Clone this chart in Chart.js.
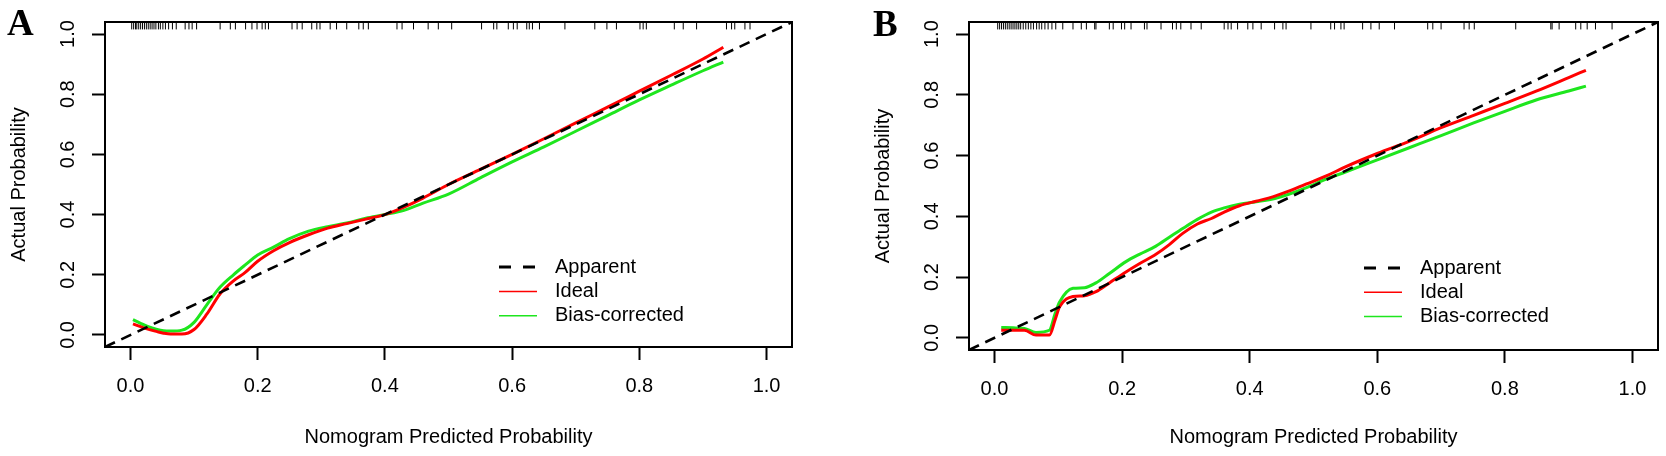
<!DOCTYPE html>
<html>
<head>
<meta charset="utf-8">
<script src="https://cdn.jsdelivr.net/npm/chart.js@4.4.1/dist/chart.umd.min.js"></script>
<style>
  html, body { margin: 0; padding: 0; background: #fff; }
  #wrap { position: relative; width: 1666px; height: 456px; }
  .panel { position: absolute; top: 0; width: 833px; height: 456px; }
</style>
</head>
<body>
<div id="wrap">
  <div class="panel" style="left:0"><canvas id="chartA"></canvas></div>
  <div class="panel" style="left:833px"><canvas id="chartB"></canvas></div>
</div>
<script>
// axis range and ticks (R style, 4% extension)
const AX_RANGE = [-0.04, 1.04];
const X_TICKS = [0, 0.2, 0.4, 0.6, 0.8, 1.0];
const X_TICK_LABELS = ['0.0', '0.2', '0.4', '0.6', '0.8', '1.0'];
const Y_TICKS = [0, 0.2, 0.4, 0.6, 0.8, 1.0];
const Y_TICK_LABELS = ['0.0', '0.2', '0.4', '0.6', '0.8', '1.0'];
const DIAG = [-0.04, 1.04];
const SERIES_LABELS = ['Apparent', 'Ideal', 'Bias-corrected'];

// panel A
const A_X     = [0.004, 0.026, 0.042, 0.052, 0.063, 0.081, 0.10, 0.12, 0.141, 0.162, 0.18, 0.20, 0.225, 0.25, 0.28, 0.31, 0.34, 0.37, 0.40, 0.43, 0.46, 0.50, 0.55, 0.60, 0.65, 0.70, 0.75, 0.80, 0.85, 0.90, 0.932];
const A_IDEAL = [0.037, 0.020, 0.011, 0.006, 0.003, 0.003, 0.018, 0.069, 0.137, 0.180, 0.207, 0.245, 0.280, 0.307, 0.333, 0.355, 0.370, 0.385, 0.400, 0.425, 0.455, 0.500, 0.550, 0.600, 0.652, 0.705, 0.757, 0.810, 0.863, 0.917, 0.956];
const A_BIAS  = [0.051, 0.029, 0.018, 0.014, 0.013, 0.016, 0.042, 0.100, 0.159, 0.200, 0.232, 0.266, 0.292, 0.320, 0.345, 0.360, 0.372, 0.388, 0.400, 0.414, 0.438, 0.468, 0.522, 0.575, 0.625, 0.677, 0.729, 0.781, 0.830, 0.878, 0.907];
const A_RUG   = [0.002, 0.005, 0.008, 0.010, 0.013, 0.016, 0.019, 0.022, 0.025, 0.028, 0.031, 0.034, 0.037, 0.040, 0.044, 0.047, 0.051, 0.055, 0.060, 0.066, 0.072,
                 0.086, 0.092, 0.097, 0.104, 0.141, 0.157, 0.165, 0.181, 0.191, 0.199, 0.207, 0.212, 0.217, 0.254, 0.262, 0.270, 0.285, 0.293, 0.298,
                 0.314, 0.324, 0.340, 0.359, 0.366, 0.374, 0.419, 0.427, 0.445, 0.468, 0.484, 0.505, 0.552, 0.571, 0.576, 0.594, 0.602, 0.608,
                 0.623, 0.627, 0.632, 0.643, 0.683, 0.730, 0.749, 0.764, 0.801, 0.806, 0.811, 0.855, 0.869, 0.890, 0.937, 0.945, 0.950, 0.966, 0.974];

// panel B
const B_X     = [0.0105, 0.029, 0.047, 0.065, 0.086, 0.095, 0.102, 0.123, 0.141, 0.159, 0.18, 0.206, 0.227, 0.253, 0.274, 0.295, 0.318, 0.34, 0.36, 0.384, 0.41, 0.436, 0.46, 0.488, 0.52, 0.55, 0.60, 0.65, 0.70, 0.75, 0.80, 0.85, 0.90, 0.927];
const B_IDEAL = [0.025, 0.025, 0.025, 0.009, 0.009, 0.060, 0.102, 0.136, 0.139, 0.152, 0.181, 0.217, 0.244, 0.275, 0.307, 0.344, 0.375, 0.393, 0.414, 0.435, 0.450, 0.464, 0.482, 0.506, 0.533, 0.563, 0.607, 0.647, 0.692, 0.732, 0.772, 0.813, 0.857, 0.881];
const B_BIAS  = [0.034, 0.033, 0.031, 0.018, 0.025, 0.080, 0.118, 0.163, 0.165, 0.181, 0.212, 0.251, 0.275, 0.302, 0.331, 0.360, 0.390, 0.414, 0.428, 0.440, 0.448, 0.457, 0.472, 0.494, 0.523, 0.546, 0.586, 0.626, 0.666, 0.707, 0.746, 0.784, 0.813, 0.829];
const B_RUG   = [0.005, 0.008, 0.011, 0.014, 0.017, 0.020, 0.023, 0.026, 0.029, 0.032, 0.035, 0.038, 0.041, 0.045, 0.049, 0.053, 0.057, 0.061, 0.066, 0.070, 0.074, 0.079, 0.084, 0.090, 0.096,
                 0.107, 0.123, 0.136, 0.144, 0.157, 0.159, 0.180, 0.186, 0.199, 0.204, 0.214, 0.235, 0.239, 0.261, 0.279, 0.285, 0.292, 0.308, 0.324,
                 0.360, 0.366, 0.371, 0.381, 0.397, 0.405, 0.418, 0.439, 0.452, 0.457, 0.496, 0.527, 0.533, 0.543, 0.548, 0.577, 0.590, 0.603, 0.627,
                 0.679, 0.687, 0.700, 0.736, 0.744, 0.752, 0.817, 0.872, 0.874, 0.885, 0.911, 0.919, 0.929, 0.942, 0.968];

const RED = '#ff0000';
const GREEN = '#1ee61e';
const RUG_Y = 1.027;

Chart.defaults.font.family = '"Liberation Sans", Arial, sans-serif';
Chart.defaults.font.size = 20;
Chart.defaults.color = '#000';

function pairs(xs, ys) {
    return xs.map((x, i) => ({ x: x, y: ys[i] }));
}

// box, legend and panel letter
const calibDecor = {
    id: 'calibDecor',
    afterDatasetsDraw(chart, args, opts) {
        const ctx = chart.ctx;
        const a = chart.chartArea;
        ctx.save();
        ctx.strokeStyle = '#000';
        ctx.lineWidth = 2;
        ctx.setLineDash([]);
        ctx.strokeRect(a.left, a.top, a.right - a.left, a.bottom - a.top);

        // legend
        const items = chart.data.datasets.filter(ds => ds.inLegend);
        ctx.font = '20px "Liberation Sans", Arial, sans-serif';
        ctx.textBaseline = 'middle';
        ctx.textAlign = 'left';
        items.forEach((ds, i) => {
            const y = a.top + opts.legendTop + i * opts.legendStep;
            const x0 = a.left + opts.legendLeft;
            ctx.beginPath();
            ctx.strokeStyle = ds.borderColor;
            ctx.lineWidth = ds.legendWidth;
            ctx.setLineDash(ds.legendDash || []);
            ctx.moveTo(x0, y);
            ctx.lineTo(x0 + 38, y);
            ctx.stroke();
            ctx.fillStyle = '#000';
            ctx.fillText(ds.label, x0 + 56, y);
        });
        ctx.setLineDash([]);

        // panel letter
        ctx.font = 'bold 37px "Liberation Serif", "Times New Roman", serif';
        ctx.textBaseline = 'alphabetic';
        ctx.fillStyle = '#000';
        ctx.fillText(opts.letter, opts.letterX, opts.letterY);
        ctx.restore();
    }
};

function makeCalib(id, p) {
    return new Chart(document.getElementById(id), {
        type: 'scatter',
        data: {
            datasets: [{
                label: SERIES_LABELS[0],
                data: pairs(DIAG, DIAG),
                showLine: true,
                borderColor: '#000',
                borderWidth: 2.6,
                borderDash: [11, 7],
                pointRadius: 0,
                inLegend: true,
                legendWidth: 3,
                legendDash: [12, 12]
            }, {
                label: SERIES_LABELS[1],
                data: pairs(p.x, p.ideal),
                showLine: true,
                borderColor: RED,
                borderWidth: 3,
                pointRadius: 0,
                cubicInterpolationMode: 'monotone',
                inLegend: true,
                legendWidth: 1.5
            }, {
                label: SERIES_LABELS[2],
                data: pairs(p.x, p.bias),
                showLine: true,
                borderColor: GREEN,
                borderWidth: 3,
                pointRadius: 0,
                cubicInterpolationMode: 'monotone',
                inLegend: true,
                legendWidth: 1.5
            }, {
                label: 'rug',
                data: p.rug.map(v => ({ x: v, y: RUG_Y })),
                showLine: false,
                pointStyle: 'line',
                rotation: 90,
                pointRadius: 3.5,
                pointBorderColor: '#000',
                pointBorderWidth: 1
            }]
        },
        options: {
            responsive: true,
            maintainAspectRatio: false,
            animation: false,
            layout: { padding: p.pad },
            plugins: {
                legend: { display: false },
                tooltip: { enabled: false },
                calibDecor: p.decor
            },
            scales: {
                x: {
                    type: 'linear',
                    min: AX_RANGE[0],
                    max: AX_RANGE[1],
                    afterBuildTicks: s => { s.ticks = X_TICKS.map(v => ({ value: v })); },
                    afterFit: s => { s.height = p.xAxisH; },
                    border: { display: false },
                    grid: { drawOnChartArea: false, drawTicks: true, tickLength: 13, tickColor: '#000', tickWidth: 2 },
                    ticks: {
                        autoSkip: false,
                        maxRotation: 0,
                        padding: 14,
                        color: '#000',
                        callback: (v, i) => X_TICK_LABELS[i]
                    },
                    title: {
                        display: true,
                        text: 'Nomogram Predicted Probability',
                        color: '#000',
                        padding: { top: 0, bottom: 7 }
                    }
                },
                y: {
                    type: 'linear',
                    min: AX_RANGE[0],
                    max: AX_RANGE[1],
                    afterBuildTicks: s => { s.ticks = Y_TICKS.map(v => ({ value: v })); },
                    afterFit: s => { s.width = 105; },
                    border: { display: false },
                    grid: { drawOnChartArea: false, drawTicks: true, tickLength: 13, tickColor: '#000', tickWidth: 2 },
                    ticks: {
                        autoSkip: false,
                        minRotation: 90,
                        maxRotation: 90,
                        crossAlign: 'center',
                        padding: 10,
                        color: '#000',
                        callback: (v, i) => Y_TICK_LABELS[i]
                    },
                    title: {
                        display: true,
                        text: 'Actual Probability',
                        color: '#000',
                        padding: { top: 7, bottom: 0 }
                    }
                }
            }
        },
        plugins: [calibDecor]
    });
}

makeCalib('chartA', {
    x: A_X, ideal: A_IDEAL, bias: A_BIAS, rug: A_RUG,
    pad: { left: 0, top: 7, right: 41, bottom: 0 },
    xAxisH: 109,
    decor: { letter: 'A', letterX: 7, letterY: 35, legendLeft: 394, legendTop: 245, legendStep: 24.4 }
});

makeCalib('chartB', {
    x: B_X, ideal: B_IDEAL, bias: B_BIAS, rug: B_RUG,
    pad: { left: 31, top: 9, right: 8, bottom: 0 },
    xAxisH: 106,
    decor: { letter: 'B', letterX: 40, letterY: 36, legendLeft: 395, legendTop: 246, legendStep: 24.2 }
});
</script>
</body>
</html>
